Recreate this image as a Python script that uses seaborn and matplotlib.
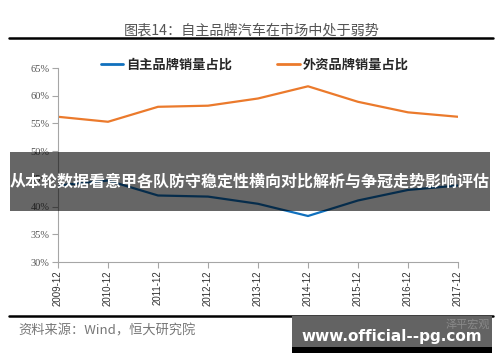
import pandas as pd
import seaborn as sns
import matplotlib.pyplot as plt
from matplotlib.patches import Rectangle
from matplotlib.lines import Line2D

# --- DATA ---
YEARS = ["2009-12", "2010-12", "2011-12", "2012-12", "2013-12",
         "2014-12", "2015-12", "2016-12", "2017-12"]
DOMESTIC = [43.8, 44.7, 42.0, 41.8, 40.5, 38.3, 41.1, 43.0, 43.8]   # 自主品牌销量占比
FOREIGN = [56.2, 55.3, 58.0, 58.2, 59.5, 61.7, 58.9, 57.0, 56.2]    # 外资品牌销量占比
SERIES = ["自主品牌销量占比", "外资品牌销量占比"]
Y_TICKS = [30, 35, 40, 45, 50, 55, 60, 65]

W, H = 500, 362
CJK = ["Noto Sans CJK SC", "DejaVu Sans"]


def fx(x):
    return x / W


def fy(y):
    return 1 - y / H


def build_chart():
    df = pd.DataFrame({
        "pos": list(range(len(YEARS))) * 2,
        "value": DOMESTIC + FOREIGN,
        "series": [SERIES[0]] * len(YEARS) + [SERIES[1]] * len(YEARS),
    })

    sns.set_theme(style="white")
    plt.rcParams["font.family"] = CJK

    fig = plt.figure(figsize=(W / 100, H / 100), dpi=100)
    fig.patch.set_facecolor("white")
    ax = fig.add_axes([fx(58), fy(262), fx(458) - fx(58), fy(68) - fy(262)])

    sns.lineplot(data=df, x="pos", y="value", hue="series", ax=ax,
                 palette=["#1070BD", "#EB7A2C"], linewidth=1.6,
                 legend=False, sort=False)

    # axes styling
    ax.set_xlim(0, len(YEARS) - 1)
    ax.set_ylim(30, 65)
    ax.set_yticks(Y_TICKS)
    ax.set_yticklabels([f"{v}%" for v in Y_TICKS], family="Liberation Serif",
                       fontsize=7.5, color="#555555")
    ax.set_xticks(range(len(YEARS)))
    ax.set_xticklabels(YEARS, rotation=90, family="Liberation Sans",
                       fontsize=7, color="#333333")
    ax.set_xlabel("")
    ax.set_ylabel("")
    for side in ["top", "right"]:
        ax.spines[side].set_visible(False)
    for side in ["left", "bottom"]:
        ax.spines[side].set_color("#a6a6a6")
        ax.spines[side].set_linewidth(0.8)
    ax.tick_params(axis="both", length=4, width=0.8, color="#a6a6a6",
                   direction="out", pad=2, left=True, bottom=True)

    # legend
    handles = [Line2D([], [], color="#1070BD", lw=2),
               Line2D([], [], color="#EB7A2C", lw=2)]
    fig.legend(handles, SERIES, loc="center", bbox_to_anchor=(fx(255), fy(65)),
               ncol=2, frameon=False, handlelength=1.7, handletextpad=0.25,
               columnspacing=3.4, prop={"family": CJK, "size": 9.5, "weight": "bold"})

    # title + rules
    fig.text(fx(252), fy(30), "图表14：自主品牌汽车在市场中处于弱势", ha="center",
             va="center", fontsize=10.2, color="#555555", family=CJK)
    fig.add_artist(Line2D([fx(9), fx(493)], [fy(37.5), fy(37.5)], color="black",
                          lw=1.8, transform=fig.transFigure))
    fig.add_artist(Line2D([fx(9), fx(493)], [fy(316), fy(316)], color="black",
                          lw=1.8, transform=fig.transFigure))
    fig.text(fx(18), fy(331), "资料来源：Wind，恒大研究院", ha="left", va="center",
             fontsize=9.5, color="#777777", style="italic", family=CJK)

    # banner overlay
    fig.add_artist(Rectangle((fx(10), fy(211)), fx(490) - fx(10), fy(152) - fy(211),
                             transform=fig.transFigure, facecolor="black",
                             alpha=0.6, edgecolor="none", zorder=10))
    fig.text(fx(250), fy(182), "从本轮数据看意甲各队防守稳定性横向对比解析与争冠走势影响评估",
             ha="center", va="center", fontsize=11.5, color="white",
             weight="bold", family=CJK, zorder=11)

    # watermark box
    fig.add_artist(Rectangle((fx(292), fy(347)), fx(492) - fx(292), fy(316) - fy(347),
                             transform=fig.transFigure, facecolor="#636363",
                             edgecolor="none", zorder=10))
    fig.add_artist(Rectangle((fx(292), fy(353)), fx(492) - fx(292), fy(347) - fy(353),
                             transform=fig.transFigure, facecolor="black",
                             edgecolor="none", zorder=10))
    fig.text(fx(490), fy(324), "泽平宏观", ha="right", va="center", fontsize=8,
             color="#8a8a8a", family=CJK, zorder=11)
    fig.text(fx(392), fy(337), "www.official--pg.com", ha="center", va="center",
             fontsize=11, color="white", weight="bold", family="DejaVu Sans", zorder=11)

    fig.savefig("out.png", dpi=100, facecolor="white")


build_chart()
